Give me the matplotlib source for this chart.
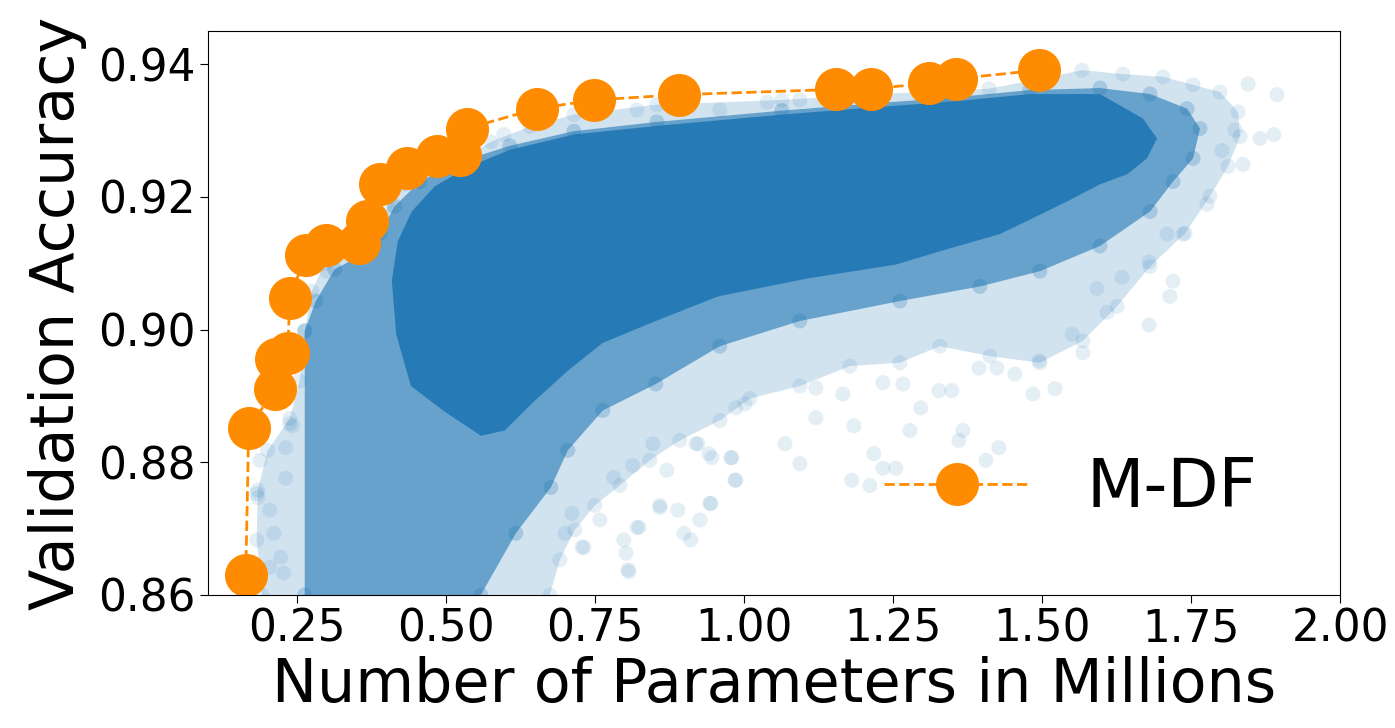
import matplotlib
matplotlib.use('Agg')
import matplotlib.pyplot as plt

# Pareto front (M-DF)
front_x = [0.1638, 0.1688, 0.2125, 0.2150, 0.2343, 0.2376, 0.2645, 0.2981, 0.3535,
           0.3669, 0.3887, 0.4342, 0.4844, 0.5230, 0.5347, 0.6522, 0.7479, 0.8905,
           1.1540, 1.2128, 1.3102, 1.3555, 1.4948]
front_y = [0.8630, 0.8851, 0.8910, 0.8956, 0.8964, 0.9047, 0.9112, 0.9127, 0.9130,
           0.9163, 0.9220, 0.9243, 0.9262, 0.9263, 0.9303, 0.9333, 0.9346, 0.9354,
           0.9362, 0.9363, 0.9371, 0.9378, 0.9391]

# outline of the faint outer part of the sampled cloud
faint_x = [0.1910, 0.1823, 0.1840, 0.2007, 0.2377, 0.2544, 0.2628, 0.2746, 0.2964,
           0.3384, 0.3753, 0.4022, 0.4307, 0.4727, 0.5230, 0.5751, 0.6405, 0.7144,
           0.8537, 1.0635, 1.2028, 1.4109, 1.5150, 1.5670, 1.6358, 1.7030, 1.7533,
           1.7986, 1.8288, 1.8322, 1.8120, 1.7818, 1.7399, 1.6812, 1.6258, 1.5686,
           1.4964, 1.4125, 1.3286, 1.2614, 1.1775, 1.0936, 1.0097, 0.9593, 0.8922,
           0.8418, 0.7915, 0.7495, 0.7160, 0.6908, 0.6740]
faint_y = [0.8600, 0.8683, 0.8758, 0.8818, 0.8866, 0.8923, 0.8998, 0.9058, 0.9100,
           0.9118, 0.9145, 0.9186, 0.9219, 0.9241, 0.9253, 0.9283, 0.9306, 0.9324,
           0.9339, 0.9346, 0.9354, 0.9363, 0.9381, 0.9391, 0.9385, 0.9381, 0.9369,
           0.9358, 0.9328, 0.9291, 0.9246, 0.9201, 0.9145, 0.9095, 0.9035, 0.8983,
           0.8950, 0.8960, 0.8975, 0.8950, 0.8945, 0.8915, 0.8896, 0.8863, 0.8833,
           0.8803, 0.8765, 0.8735, 0.8698, 0.8653, 0.8600]

# outline of the medium density part
mid_x = [0.2628, 0.2628, 0.2813, 0.3132, 0.3552, 0.3887, 0.4139, 0.4558, 0.5230,
         0.6069, 0.7144, 0.8537, 1.0635, 1.2028, 1.3404, 1.4797, 1.5972, 1.6812,
         1.7433, 1.7651, 1.7533, 1.7197, 1.6812, 1.5972, 1.4964, 1.3957, 1.2614,
         1.0936, 0.9593, 0.8519, 0.7629, 0.7042, 0.6757, 0.6170, 0.5584]
mid_y = [0.8600, 0.8998, 0.9043, 0.9091, 0.9111, 0.9145, 0.9186, 0.9223, 0.9253,
         0.9277, 0.9299, 0.9313, 0.9330, 0.9340, 0.9349, 0.9361, 0.9364, 0.9355,
         0.9333, 0.9303, 0.9258, 0.9223, 0.9178, 0.9126, 0.9088, 0.9065, 0.9043,
         0.9013, 0.8975, 0.8918, 0.8878, 0.8818, 0.8762, 0.8693, 0.8600]

# outline of the saturated core
core_x = [0.4163, 0.4089, 0.4189, 0.4424, 0.4810, 0.5398, 0.6069, 0.7144, 0.8537,
          1.0635, 1.2028, 1.3404, 1.4797, 1.5972, 1.6693, 1.6929, 1.6761, 1.6426,
          1.5972, 1.5418, 1.4847, 1.4293, 1.3286, 1.2547, 1.1058, 0.9564, 0.8519,
          0.7629, 0.7042, 0.6455, 0.5985, 0.5584, 0.4997, 0.4409]
core_y = [0.8993, 0.9073, 0.9133, 0.9178, 0.9216, 0.9246, 0.9271, 0.9294, 0.9307,
          0.9324, 0.9334, 0.9343, 0.9355, 0.9355, 0.9318, 0.9288, 0.9258, 0.9234,
          0.9219, 0.9193, 0.9168, 0.9144, 0.9118, 0.9098, 0.9077, 0.9050, 0.9013,
          0.8980, 0.8938, 0.8890, 0.8848, 0.8840, 0.8875, 0.8915]

# scattered single architectures outside the dense cloud
out_x = [1.8456, 1.8942, 1.8892, 1.8657, 1.8372, 1.8020, 1.8238, 1.7768, 1.7365,
         1.7097, 1.6795, 1.7197, 1.7147, 1.6341, 1.5922, 1.6089, 1.6795, 1.5686,
         1.5216, 1.4847, 1.4545, 1.4948, 1.5502,
         0.8066, 0.8201, 0.7982, 0.7311, 0.9107, 0.9258, 0.9443, 0.8889, 0.8587,
         0.9862, 0.9778, 0.9409, 0.9190, 1.0685, 1.0936, 1.1205, 1.1843, 1.1809,
         1.2111, 1.2178, 1.2329, 1.2547, 1.2782, 1.2967, 1.3672, 1.3605, 1.4276,
         1.4058, 1.3269, 1.3487, 1.4243, 1.3941, 1.2665, 1.2329, 1.1658, 1.1205,
         1.0013, 0.9862,
         0.7281, 0.8052, 0.8019, 0.8237, 0.7581, 0.7110, 0.6993, 0.8587, 0.9426,
         0.8990, 0.8705, 0.8470, 0.7812, 0.8131, 0.9846, 0.9460, 0.9795, 0.9225,
         0.1877, 0.1843, 0.2042, 0.2109, 0.2226, 0.2042, 0.2309, 0.2427, 0.2309,
         0.2276, 0.1826, 0.2376,
         1.0387, 1.0936, 0.9593, 0.5969, 0.8201, 0.2997]
out_y = [0.9370, 0.9354, 0.9294, 0.9288, 0.9249, 0.9270, 0.9301, 0.9189, 0.9144,
         0.9144, 0.9102, 0.9073, 0.9050, 0.9079, 0.9062, 0.9026, 0.9007, 0.8965,
         0.8911, 0.8903, 0.8933, 0.8953, 0.8993,
         0.8635, 0.8702, 0.8683, 0.8672, 0.8683, 0.8713, 0.8738, 0.8728, 0.8732,
         0.8773, 0.8807, 0.8813, 0.8828, 0.8828, 0.8798, 0.8867, 0.8855, 0.8773,
         0.8765, 0.8813, 0.8791, 0.8791, 0.8848, 0.8882, 0.8848, 0.8833, 0.8822,
         0.8803, 0.8908, 0.8908, 0.8942, 0.8942, 0.8918, 0.8920, 0.8903, 0.8912,
         0.8888, 0.8882,
         0.8672, 0.8638, 0.8663, 0.8702, 0.8713, 0.8723, 0.8693, 0.8735, 0.8738,
         0.8693, 0.8788, 0.8828, 0.8777, 0.8795, 0.8773, 0.8807, 0.8807, 0.8828,
         0.8803, 0.8747, 0.8728, 0.8693, 0.8657, 0.8642, 0.8822, 0.8855, 0.8776,
         0.8633, 0.8753, 0.8858,
         0.9343, 0.9346, 0.9331, 0.9294, 0.9331, 0.9088]

blue = '#1f77b4'

fig = plt.figure(figsize=(13.95, 7.28), dpi=100)
ax = fig.add_axes([0.1489, 0.1827, 0.8117, 0.7747])

# cloud of all sampled architectures, drawn as density layers
ax.fill(faint_x, faint_y, color=blue, alpha=0.2, lw=0)
ax.fill(mid_x, mid_y, color=blue, alpha=0.6, lw=0)
ax.fill(core_x, core_y, color=blue, alpha=0.9, lw=0)
# soft circle texture along the layer edges and the loose points
ax.scatter(faint_x, faint_y, s=117, color=blue, alpha=0.12, edgecolors='none')
ax.scatter(mid_x, mid_y, s=117, color=blue, alpha=0.25, edgecolors='none')
ax.scatter(out_x, out_y, s=117, color=blue, alpha=0.12, edgecolors='none')

ax.plot(front_x, front_y, '--', color='darkorange', lw=2, marker='o',
        markersize=31, markeredgewidth=0, label='M-DF')

ax.set_xlim(0.1, 2.0)
ax.set_ylim(0.86, 0.945)
ax.set_xticks([0.25, 0.50, 0.75, 1.00, 1.25, 1.50, 1.75, 2.00])
ax.set_yticks([0.86, 0.88, 0.90, 0.92, 0.94])
ax.tick_params(labelsize=31.5, length=5.5)
ax.set_xlabel('Number of Parameters in Millions', fontsize=43.5)
ax.set_ylabel('Validation Accuracy', fontsize=43.5, labelpad=8)

ax.legend(loc='center', bbox_to_anchor=(0.762, 0.19), frameon=False,
          fontsize=48, handlelength=2.2, handletextpad=0.85)

fig.savefig('out.png', dpi=100)
